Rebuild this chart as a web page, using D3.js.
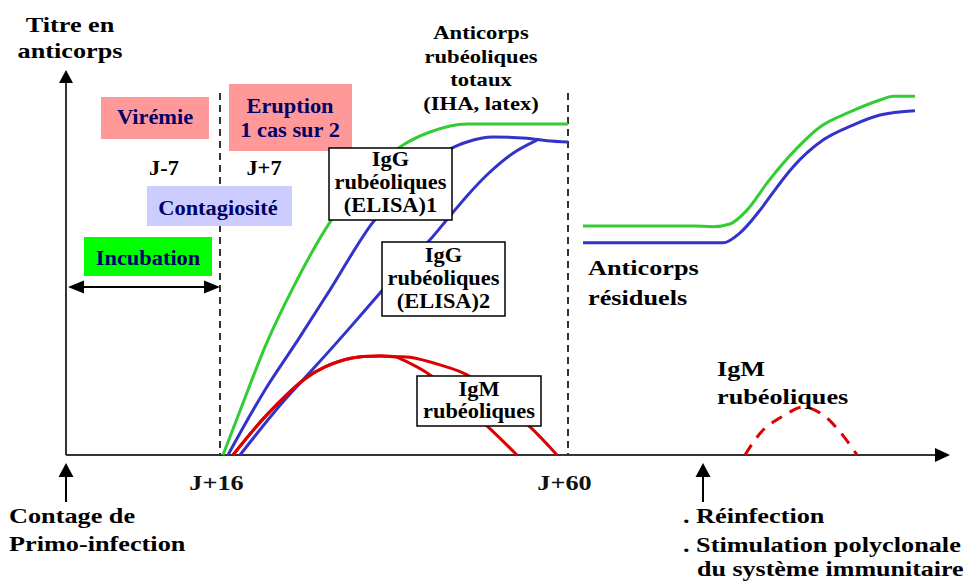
<!DOCTYPE html>
<html>
<head>
<meta charset="utf-8">
<script src="https://cdn.jsdelivr.net/npm/d3@7"></script>
<style>
  html, body { margin: 0; padding: 0; background: #fff; }
  svg { display: block; }
  text { font-family: "Liberation Serif", "Times New Roman", serif; font-weight: bold; }
</style>
</head>
<body>
<div id="chart"></div>
<script>
// time in days after contact, titre in arbitrary units (0-100)
const xTicks = [16, 60];
const xTickLabels = ["J+16", "J+60"];
const axisEnd = 108.3;

const totalAb = [[16.38, 0], [19.54, 16.9], [21.69, 28.1], [23.84, 37.7], [25.10, 42.9], [29.91, 60.5],
  [34.33, 71.9], [39.14, 80.5], [42.55, 83.9], [47.23, 86.0], [60, 86.0]];
const iggElisa1 = [[17.01, 0], [21.69, 16.9], [25.86, 29.9], [29.91, 42.9], [35.35, 60.5], [41.29, 72.5],
  [45.33, 79.7], [47.23, 81.3], [50.52, 82.6], [54.82, 82.3], [57.35, 81.6], [60, 81.3]];
const iggElisa2 = [[18.53, 0], [23.84, 13.5], [28.01, 22.9], [32.18, 32.5], [36.23, 42.1], [39.39, 49.4],
  [42.30, 55.3], [45.08, 62.1], [47.23, 67.3], [50.14, 73.5], [53.05, 78.4], [56.08, 81.8]];
const igmRise = [[17.64, 0], [21.69, 9.9], [26.75, 19.8], [29.28, 22.9], [32.69, 25.2], [36.23, 25.7], [38.13, 25.5]];
const igmFall1 = [[39.14, 24.7], [42.55, 20.8], [46.35, 13.8], [49.89, 7.3], [53.55, 0]];
const igmFall2 = [[40.02, 25.4], [43.82, 23.4], [47.23, 20.8], [51.40, 13.8], [55.20, 7.3], [58.61, 0]];

const residualTotal = [[61.9, 59.5], [75.8, 59.5], [78.33, 59.3], [80.48, 60.0], [82.63, 63.6], [85.16, 70.6],
  [86.8, 74.8], [88.95, 79.7], [91.86, 85.2], [95.66, 89.1], [99.45, 92.2], [101.1, 93.2], [103.87, 93.2]];
const residualIgg = [[61.9, 55.1], [79.6, 55.1], [81.75, 57.7], [84.28, 63.6], [86.43, 69.6], [88.45, 74.8],
  [92.24, 81.8], [96.03, 85.7], [99.45, 88.3], [103.87, 89.4]];
const igmReinfection = [[82.38, 0], [84.66, 6.5], [87.19, 10.1], [89.72, 12.5], [92.12, 10.6], [94.40, 6.0], [96.55, 0]];

const contactDay = 0;
const reinfectionDay = 77.07;

const width = 970, height = 582;

const svg = d3.select("#chart").append("svg")
  .attr("width", width)
  .attr("height", height);

const x = d3.scaleLinear().domain([0, 16, 60]).range([66, 220, 568]);
const y = d3.scaleLinear().domain([0, 100]).range([455, 70]);

const ink = "#333";
const navy = "#000066";

// text helper: bitmap-like wide serif
function label(px, py, lines, { size = 20, sx = 1.12, anchor = "middle", fill = "#000", lh = 23 } = {}) {
  const t = svg.append("text")
    .attr("transform", `translate(${px},${py}) scale(${sx},1)`)
    .attr("text-anchor", anchor)
    .attr("font-size", size)
    .attr("fill", fill);
  lines.forEach((s, i) => {
    t.append("tspan").attr("x", 0).attr("y", i * lh).text(s);
  });
  return t;
}

function box(x0, y0, x1, y1, fill, stroke) {
  svg.append("rect")
    .attr("x", x0).attr("y", y0)
    .attr("width", x1 - x0).attr("height", y1 - y0)
    .attr("fill", fill)
    .attr("stroke", stroke || "none")
    .attr("stroke-width", stroke ? 1.5 : 0);
}

function arrowHead(tx, ty, dir, len, half) {
  // dir: "up", "left", "right"
  let pts;
  if (dir === "up") pts = [[tx, ty], [tx - half, ty + len], [tx + half, ty + len]];
  else if (dir === "left") pts = [[tx, ty], [tx + len, ty - half], [tx + len, ty + half]];
  else pts = [[tx, ty], [tx - len, ty - half], [tx - len, ty + half]];
  svg.append("polygon").attr("points", pts.map(p => p.join(",")).join(" ")).attr("fill", "#000");
}

// dashed markers at J+16 and J+60
svg.selectAll(".marker")
  .data(xTicks)
  .enter()
  .append("line")
  .attr("class", "marker")
  .attr("x1", d => x(d)).attr("x2", d => x(d))
  .attr("y1", 93).attr("y2", y(0))
  .attr("stroke", ink)
  .attr("stroke-width", 2)
  .attr("stroke-dasharray", "7,5");

// axes
svg.append("line")
  .attr("x1", x(0)).attr("x2", x(axisEnd) - 10)
  .attr("y1", y(0)).attr("y2", y(0))
  .attr("stroke", ink).attr("stroke-width", 2);
arrowHead(x(axisEnd), y(0), "right", 15, 7);

svg.append("line")
  .attr("x1", x(0)).attr("x2", x(0))
  .attr("y1", y(0)).attr("y2", y(100) + 10)
  .attr("stroke", ink).attr("stroke-width", 2);
arrowHead(x(0), y(100), "up", 13, 7);

const xAxis = d3.axisBottom(x)
  .tickValues(xTicks)
  .tickFormat((d, i) => xTickLabels[i])
  .tickSize(0)
  .tickPadding(20);

const gx = svg.append("g")
  .attr("transform", `translate(-4,${y(0)})`)
  .call(xAxis);
gx.select(".domain").remove();
gx.selectAll("text")
  .attr("font-family", "Liberation Serif, serif")
  .attr("font-weight", "bold")
  .attr("font-size", 21)
  .attr("fill", "#111")
  .attr("transform", "scale(1.25,1)");

// curves
const line = d3.line()
  .x(d => x(d[0]))
  .y(d => y(d[1]))
  .curve(d3.curveMonotoneX);

const smooth = d3.line()
  .x(d => x(d[0]))
  .y(d => y(d[1]))
  .curve(d3.curveCatmullRom.alpha(0.5));

const series = [
  { data: totalAb, color: "#33cc33", gen: line },
  { data: iggElisa1, color: "#3333cc", gen: line },
  { data: iggElisa2, color: "#3333cc", gen: line },
  { data: igmRise.concat(igmFall1), color: "#dd0000", gen: smooth },
  { data: igmRise.concat(igmFall2), color: "#dd0000", gen: smooth },
  { data: residualTotal, color: "#33cc33", gen: line },
  { data: residualIgg, color: "#3333cc", gen: line }
];

svg.selectAll(".curve")
  .data(series)
  .enter()
  .append("path")
  .attr("class", "curve")
  .attr("d", d => d.gen(d.data))
  .attr("fill", "none")
  .attr("stroke", d => d.color)
  .attr("stroke-width", 3);

svg.append("path")
  .datum(igmReinfection)
  .attr("d", smooth)
  .attr("fill", "none")
  .attr("stroke", "#dd0000")
  .attr("stroke-width", 3)
  .attr("stroke-dasharray", "12,9");

// incubation double arrow (contact -> J+16)
svg.append("line")
  .attr("x1", x(contactDay) + 10).attr("x2", x(16) - 10)
  .attr("y1", 287).attr("y2", 287)
  .attr("stroke", "#000").attr("stroke-width", 2);
arrowHead(x(contactDay) + 2, 287, "left", 16, 6.5);
arrowHead(x(16), 287, "right", 16, 6.5);

// event arrows below the time axis
[contactDay, reinfectionDay].forEach(d => {
  svg.append("line")
    .attr("x1", x(d)).attr("x2", x(d))
    .attr("y1", 502).attr("y2", 472)
    .attr("stroke", "#000").attr("stroke-width", 2);
  arrowHead(x(d), 463, "up", 14, 7.5);
});

// phase boxes
box(101, 97, 209, 139, "#ff9999");
label(155, 124, ["Virémie"], { fill: navy });
box(229, 84, 352, 151, "#ff9999");
label(290, 113, ["Eruption", "1 cas sur 2"], { fill: navy, lh: 24 });
box(147, 186, 292, 226, "#ccccff");
label(218, 215, ["Contagiosité"], { fill: navy });
box(84, 237, 212, 276, "#00ff00");
label(148, 265, ["Incubation"], { fill: navy });

label(164, 175, ["J-7"]);
label(264, 175, ["J+7"]);

// antibody boxes
box(329, 148, 452, 220, "#fff", "#000");
label(390.5, 166, ["IgG", "rubéoliques", "(ELISA)1"]);
box(382, 242, 505, 316, "#fff", "#000");
label(443.5, 262, ["IgG", "rubéoliques", "(ELISA)2"]);
box(417, 376, 541, 426, "#fff", "#000");
label(479, 396, ["IgM", "rubéoliques"], { lh: 22 });

// free annotations
label(481, 39, ["Anticorps", "rubéoliques", "totaux", "(IHA, latex)"], { size: 19, sx: 1.19, lh: 23.7 });
label(70, 32, ["Titre en", "anticorps"], { size: 21, sx: 1.25, lh: 26 });
label(588, 275, ["Anticorps", "résiduels"], { size: 21, sx: 1.25, anchor: "start", lh: 30 });
label(717, 376, ["IgM", "rubéoliques"], { size: 21, sx: 1.25, anchor: "start", lh: 28 });
label(9, 523, ["Contage de", "Primo-infection"], { size: 21, sx: 1.25, anchor: "start", lh: 28 });
label(683, 523, [". Réinfection", ". Stimulation polyclonale"], { size: 21, sx: 1.25, anchor: "start", lh: 29 });
label(697, 576, ["du système immunitaire"], { size: 20, sx: 1.3, anchor: "start" });
</script>
</body>
</html>
